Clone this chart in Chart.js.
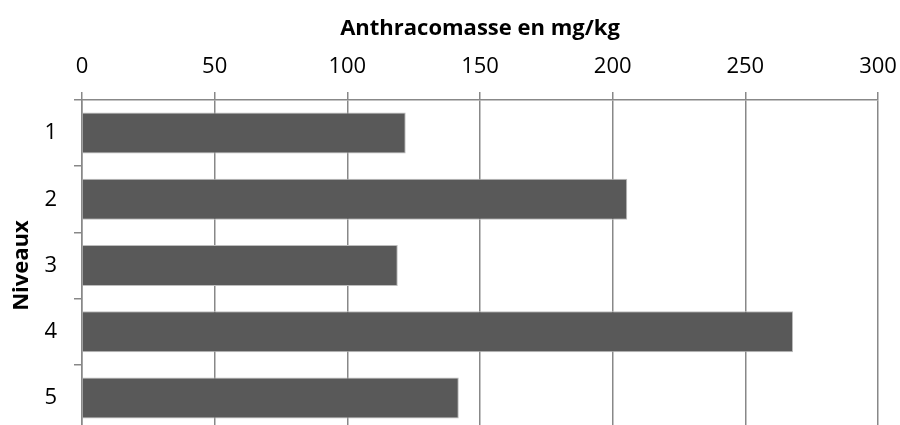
<!DOCTYPE html>
<html>
<head>
<meta charset="utf-8">
<script src="https://cdn.jsdelivr.net/npm/chart.js@4"></script>
<style>
  html, body { margin: 0; padding: 0; background: #ffffff; overflow: hidden; }
  #wrap { width: 900px; height: 425px; overflow: hidden; position: relative; }
  #box { position: absolute; left: 0; top: 0; width: 900px; height: 445px; }
  #myChart { width: 900px; height: 445px; max-width: none; max-height: none; }
</style>
</head>
<body>
<div id="wrap"><div id="box"><canvas id="myChart" width="900" height="445"></canvas></div></div>
<script>
const niveaux = ["1", "2", "3", "4", "5"];
const anthracomasse = [122, 205.5, 119, 268, 142];
const xTicks = [0, 50, 100, 150, 200, 250, 300];

const gridGrey = "#888888";
const fontFamily = "'Open Sans', 'Noto Sans', sans-serif";

const data = {
  labels: niveaux,
  datasets: [
    {
      label: "Anthracomasse",
      data: anthracomasse,
      backgroundColor: "#595959",
      borderColor: "#bdbdbd",
      borderWidth: 1,
      categoryPercentage: 1,
      barPercentage: 0.62,
    },
  ],
};

const config = {
  type: "bar",
  data: data,
  options: {
    indexAxis: "y",
    responsive: false,
    animation: false,
    layout: {
      padding: { left: 0, right: 22, top: 0, bottom: 14 },
    },
    plugins: {
      legend: { display: false },
      tooltip: { enabled: false },
    },
    scales: {
      x: {
        position: "top",
        min: xTicks[0],
        max: xTicks[xTicks.length - 1],
        afterBuildTicks: (scale) => {
          scale.ticks = xTicks.map((v) => ({ value: v }));
        },
        afterFit: (scale) => {
          // fixed band for title + labels, no extra side padding
          scale.height = 100;
          scale.paddingLeft = 0;
          scale.paddingRight = 0;
        },
        grid: {
          color: gridGrey,
          lineWidth: 1.5,
          tickLength: 8,
        },
        border: { color: gridGrey, width: 1.5 },
        ticks: {
          color: "#000000",
          padding: 12,
          font: { family: fontFamily, size: 22 },
        },
        title: {
          display: true,
          text: "Anthracomasse en mg/kg",
          color: "#000000",
          padding: { top: 16, bottom: 0 },
          font: { family: fontFamily, size: 22, weight: "bold" },
        },
      },
      y: {
        afterFit: (scale) => {
          scale.width = 82;
          scale.paddingTop = 0;
          scale.paddingBottom = 0;
        },
        grid: {
          offset: true,
          drawOnChartArea: false,
          color: gridGrey,
          lineWidth: 1.5,
          tickLength: 8,
        },
        border: { color: gridGrey, width: 1.5 },
        ticks: {
          color: "#000000",
          padding: 17,
          font: { family: fontFamily, size: 22 },
        },
        title: {
          display: true,
          text: "Niveaux",
          color: "#000000",
          padding: { top: 9, bottom: 0 },
          font: { family: fontFamily, size: 22, weight: "bold" },
        },
      },
    },
  },
};

const myChart = new Chart(document.getElementById("myChart"), config);
</script>
</body>
</html>
